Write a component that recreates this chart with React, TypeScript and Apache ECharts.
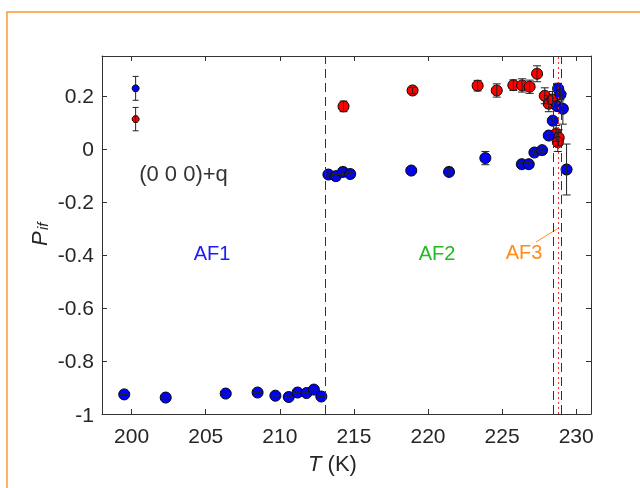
import React, { useEffect, useRef } from "react";
import * as echarts from "echarts";

const xTicks = [200, 205, 210, 215, 220, 225, 230];
const yTicks = [-1, -0.8, -0.6, -0.4, -0.2, 0, 0.2];

const blueT = [199.5, 202.3, 206.35, 208.5, 209.7, 210.6, 211.2, 211.8, 212.3, 212.8, 213.28, 213.78, 214.26, 214.75, 218.87, 221.42, 223.87, 226.33, 226.8, 227.18, 227.7, 228.15, 228.42, 228.71, 228.78, 228.94, 229.1, 229.35];
const blueP = [-0.926, -0.938, -0.923, -0.919, -0.931, -0.936, -0.919, -0.921, -0.908, -0.934, -0.097, -0.103, -0.087, -0.095, -0.082, -0.087, -0.035, -0.058, -0.058, -0.014, -0.005, 0.05, 0.106, 0.161, 0.227, 0.205, 0.151, -0.078];
const blueErr = [0.001, 0.001, 0.001, 0.001, 0.001, 0.001, 0.001, 0.001, 0.001, 0.001, 0.006, 0.006, 0.01, 0.006, 0.012, 0.012, 0.025, 0.006, 0.006, 0.006, 0.008, 0.008, 0.01, 0.012, 0.02, 0.02, 0.058, 0.096];

const redT = [214.3, 218.96, 223.35, 224.64, 225.76, 226.35, 226.86, 227.36, 227.88, 228.15, 228.4, 228.65, 228.82, 228.76];
const redP = [0.16, 0.22, 0.238, 0.22, 0.24, 0.239, 0.234, 0.283, 0.2, 0.17, 0.186, 0.058, 0.042, 0.025];
const redErr = [0.02, 0.012, 0.02, 0.025, 0.02, 0.025, 0.025, 0.03, 0.03, 0.03, 0.03, 0.03, 0.03, 0.035];

const smallT = [200.27];
const smallBlueP = [0.228];
const smallBlueErr = [0.045];
const smallRedP = [0.112];
const smallRedErr = [0.044];

const dashedT = [213.07, 228.48, 228.99];
const dottedT = [228.78];

const FONT = '"Liberation Sans", Arial, Helvetica, sans-serif';
const AX = "#333333";

function errData(t: number[], p: number[], e: number[]) {
  return t.map((v, i) => [v, p[i], e[i]]);
}

function errSeries(data: number[][], z: number, w: number) {
  return {
    type: "custom",
    z,
    silent: true,
    clip: false,
    data,
    renderItem: (params: any, api: any) => {
      const x = api.value(0);
      const y = api.value(1);
      const e = api.value(2);
      const top = api.coord([x, y + e]);
      const bot = api.coord([x, y - e]);
      const style = { stroke: "#222", lineWidth: 1 };
      return {
        type: "group",
        children: [
          { type: "line", shape: { x1: top[0], y1: top[1], x2: bot[0], y2: bot[1] }, style },
          { type: "line", shape: { x1: top[0] - w, y1: top[1], x2: top[0] + w, y2: top[1] }, style },
          { type: "line", shape: { x1: bot[0] - w, y1: bot[1], x2: bot[0] + w, y2: bot[1] }, style },
        ],
      };
    },
  };
}

export default function App() {
  const ref = useRef<HTMLDivElement>(null);
  useEffect(() => {
    if (!ref.current) return;
    const chart = echarts.init(ref.current, null, { renderer: "svg" });
    const axisCommon = {
      type: "value",
      axisLine: { show: true, onZero: false, lineStyle: { color: AX, width: 1 } },
      splitLine: { show: false },
    };
    const fmt = (v: number) => {
      const r = Math.round(v * 10) / 10;
      return r === 0 ? "0" : String(r);
    };
    chart.setOption({
      animation: false,
      grid: { left: 102, top: 56, right: 49, bottom: 74 },
      xAxis: [
        {
          ...axisCommon,
          position: "bottom",
          min: 198,
          max: 231,
          axisTick: { show: true, inside: true, length: 5, lineStyle: { color: AX }, customValues: xTicks },
          axisLabel: { show: true, customValues: xTicks, fontSize: 21, color: "#262626", fontFamily: FONT, margin: 11 },
        },
        {
          ...axisCommon,
          position: "top",
          min: 198,
          max: 231,
          axisTick: { show: true, inside: true, length: 5, lineStyle: { color: AX }, customValues: xTicks },
          axisLabel: { show: false },
        },
      ],
      yAxis: [
        {
          ...axisCommon,
          position: "left",
          min: -1,
          max: 0.35,
          axisTick: { show: true, inside: true, length: 5, lineStyle: { color: AX }, customValues: yTicks },
          axisLabel: { show: true, customValues: yTicks, formatter: fmt, fontSize: 21, color: "#262626", fontFamily: FONT, margin: 8 },
        },
        {
          ...axisCommon,
          position: "right",
          min: -1,
          max: 0.35,
          axisTick: { show: true, inside: true, length: 5, lineStyle: { color: AX }, customValues: yTicks },
          axisLabel: { show: false },
        },
      ],
      series: [
        {
          type: "line",
          data: [],
          silent: true,
          markLine: {
            silent: true,
            symbol: "none",
            label: { show: false },
            lineStyle: { color: "#333", type: [9, 5], width: 1 },
            data: dashedT.map((t) => ({ xAxis: t })),
          },
        },
        {
          type: "line",
          data: [],
          silent: true,
          markLine: {
            silent: true,
            symbol: "none",
            label: { show: false },
            lineStyle: { color: "#ff3030", type: [2, 3], width: 1 },
            data: dottedT.map((t) => ({ xAxis: t })),
          },
        },
        {
          type: "scatter",
          z: 3,
          symbol: "circle",
          symbolSize: 7,
          data: smallT.map((t, i) => [t, smallBlueP[i]]),
          itemStyle: { color: "#0000ff", borderColor: "#000", borderWidth: 1, opacity: 1 },
        },
        {
          type: "scatter",
          z: 3,
          symbol: "circle",
          symbolSize: 7,
          data: smallT.map((t, i) => [t, smallRedP[i]]),
          itemStyle: { color: "#ff0000", borderColor: "#000", borderWidth: 1, opacity: 1 },
        },
        {
          type: "scatter",
          z: 3,
          symbol: "circle",
          symbolSize: 11,
          data: redT.map((t, i) => [t, redP[i]]),
          itemStyle: { color: "#ff0000", borderColor: "#000", borderWidth: 1, opacity: 1 },
        },
        {
          type: "scatter",
          z: 4,
          symbol: "circle",
          symbolSize: 11,
          data: blueT.map((t, i) => [t, blueP[i]]),
          itemStyle: { color: "#0000ff", borderColor: "#000", borderWidth: 1, opacity: 1 },
        },
        errSeries(errData(smallT, smallBlueP, smallBlueErr), 5, 3),
        errSeries(errData(smallT, smallRedP, smallRedErr), 5, 3),
        errSeries(errData(redT, redP, redErr), 5, 4),
        errSeries(errData(blueT, blueP, blueErr), 5, 4),
      ],
      graphic: [
        {
          type: "rect",
          shape: { x: 7, y: 12, width: 700, height: 600 },
          style: { fill: "none", stroke: "#ff9933", lineWidth: 1.5 },
          silent: true,
        },
        {
          type: "text",
          x: 183.5,
          y: 173,
          style: { text: "(0 0 0)+q", fontSize: 22, fontFamily: FONT, fill: "#333", align: "center", verticalAlign: "middle" },
        },
        {
          type: "text",
          x: 212,
          y: 253,
          style: { text: "AF1", fontSize: 20, fontFamily: FONT, fill: "#1a1aff", align: "center", verticalAlign: "middle" },
        },
        {
          type: "text",
          x: 437,
          y: 253,
          style: { text: "AF2", fontSize: 20, fontFamily: FONT, fill: "#22bb22", align: "center", verticalAlign: "middle" },
        },
        {
          type: "text",
          x: 524,
          y: 252,
          style: { text: "AF3", fontSize: 20, fontFamily: FONT, fill: "#ff8c1a", align: "center", verticalAlign: "middle" },
        },
        {
          type: "line",
          shape: { x1: 536, y1: 242, x2: 557.7, y2: 228.5 },
          style: { stroke: "#ff8c1a", lineWidth: 1 },
        },
        {
          type: "text",
          x: 308,
          y: 463,
          style: {
            text: "{i|T} (K)",
            fontSize: 22,
            fontFamily: FONT,
            fill: "#262626",
            align: "left",
            verticalAlign: "middle",
            rich: { i: { fontStyle: "italic", fontSize: 22, fontFamily: FONT, fill: "#262626" } },
          },
        },
        {
          type: "group",
          x: 39.5,
          y: 246,
          rotation: Math.PI / 2,
          children: [
            {
              type: "text",
              x: 0,
              y: 0,
              style: { text: "P", fontSize: 22, fontStyle: "italic", fontFamily: FONT, fill: "#262626", align: "left", verticalAlign: "middle" },
            },
            {
              type: "text",
              x: 16,
              y: 3,
              style: { text: "if", fontSize: 15, fontStyle: "italic", fontFamily: FONT, fill: "#262626", align: "left", verticalAlign: "middle" },
            },
          ],
        },
      ],
    });
    return () => chart.dispose();
  }, []);
  return <div ref={ref} style={{ position: "fixed", left: 0, top: 0, width: 640, height: 488 }} />;
}
